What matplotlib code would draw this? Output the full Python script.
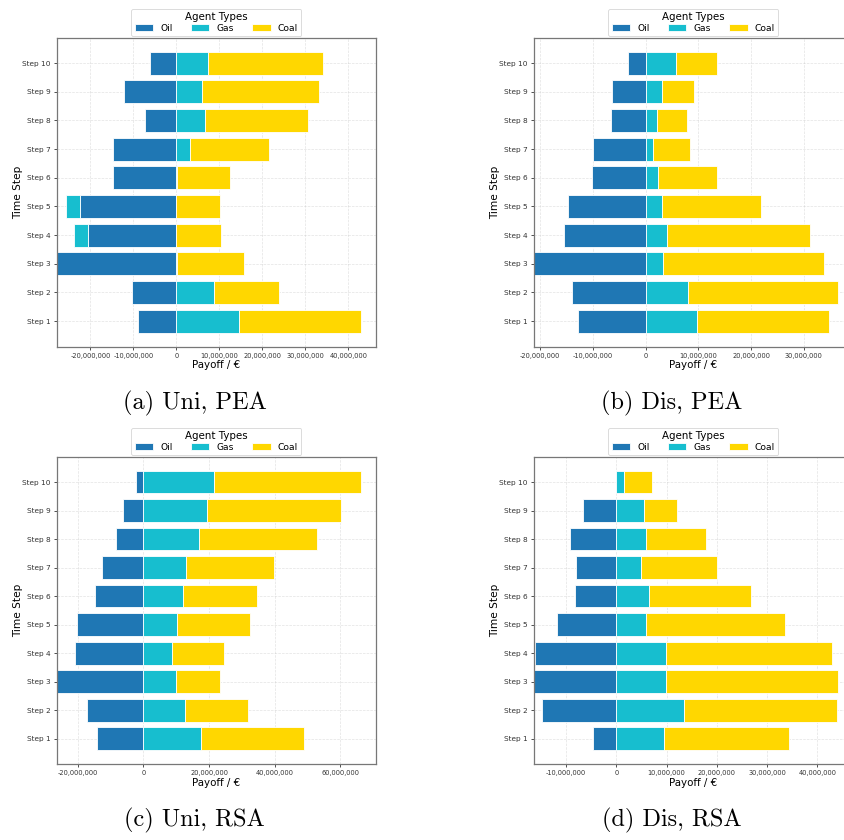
import numpy as np
import matplotlib
matplotlib.use('Agg')
import matplotlib.pyplot as plt
from matplotlib.ticker import FuncFormatter

# Payoffs per time step (Step 1 .. Step 10), in EUR
steps = [f'Step {i}' for i in range(1, 11)]
agent_types = ['Oil', 'Gas', 'Coal']
colors = ['#1f77b4', '#17becf', '#FFD700']

uni_pea_oil = [-8.84e6, -10.39e6, -27.83e6, -20.5e6, -22.4e6, -14.73e6, -14.65e6, -7.29e6, -12.25e6, -6.05e6]
uni_pea_gas = [14.57e6, 8.76e6, 0.15e6, -3.4e6, -3.18e6, 0.05e6, 3.26e6, 6.67e6, 5.97e6, 7.44e6]
uni_pea_coal = [28.3e6, 15.12e6, 15.5e6, 10.47e6, 10.23e6, 12.45e6, 18.29e6, 24.03e6, 27.2e6, 26.66e6]

dis_pea_oil = [-12.75e6, -13.89e6, -21.24e6, -15.54e6, -14.77e6, -10.21e6, -9.96e6, -6.66e6, -6.40e6, -3.36e6]
dis_pea_gas = [9.70e6, 7.99e6, 3.36e6, 4.12e6, 3.17e6, 2.28e6, 1.40e6, 2.09e6, 3.11e6, 5.83e6]
dis_pea_coal = [25.11e6, 28.47e6, 30.5e6, 27.14e6, 18.77e6, 11.16e6, 7.10e6, 5.84e6, 6.15e6, 7.74e6]

uni_rsa_oil = [-14.04e6, -17.09e6, -26.45e6, -20.75e6, -20.24e6, -14.65e6, -12.72e6, -8.44e6, -6.10e6, -2.34e6]
uni_rsa_gas = [17.60e6, 12.72e6, 9.97e6, 8.65e6, 10.17e6, 12.00e6, 13.02e6, 16.99e6, 19.33e6, 21.57e6]
uni_rsa_coal = [31.33e6, 19.02e6, 13.33e6, 15.97e6, 22.28e6, 22.59e6, 26.86e6, 35.91e6, 40.79e6, 44.66e6]

dis_rsa_oil = [-4.59e6, -14.83e6, -16.42e6, -16.16e6, -11.70e6, -8.18e6, -8.11e6, -9.18e6, -6.65e6, 0.0]
dis_rsa_gas = [9.57e6, 13.56e6, 9.97e6, 9.97e6, 5.92e6, 6.52e6, 4.92e6, 5.98e6, 5.45e6, 1.53e6]
dis_rsa_coal = [24.87e6, 30.32e6, 34.11e6, 32.92e6, 27.66e6, 20.34e6, 15.16e6, 11.91e6, 6.65e6, 5.52e6]

panels = [
    ('(a) Uni, PEA', [uni_pea_oil, uni_pea_gas, uni_pea_coal]),
    ('(b) Dis, PEA', [dis_pea_oil, dis_pea_gas, dis_pea_coal]),
    ('(c) Uni, RSA', [uni_rsa_oil, uni_rsa_gas, uni_rsa_coal]),
    ('(d) Dis, RSA', [dis_rsa_oil, dis_rsa_gas, dis_rsa_coal]),
]

# axes rectangles [left, bottom, width, height] in figure fraction
positions = [
    [0.0672, 0.5873, 0.3783, 0.3679],
    [0.6324, 0.5873, 0.3783, 0.3679],
    [0.0672, 0.0905, 0.3783, 0.3658],
    [0.6324, 0.0905, 0.3783, 0.3658],
]
caption_xy = [(0.231, 0.5200), (0.796, 0.5200), (0.230, 0.0230), (0.796, 0.0230)]

fig = plt.figure(figsize=(8.44, 8.40), dpi=100)

for (caption, series), pos, cxy in zip(panels, positions, caption_xy):
    ax = fig.add_axes(pos)
    y = np.arange(len(steps))
    pos_base = np.zeros(len(steps))
    neg_base = np.zeros(len(steps))
    for name, vals, col in zip(agent_types, series, colors):
        vals = np.array(vals)
        left = np.where(vals >= 0, pos_base, neg_base)
        ax.barh(y, vals, left=left, height=0.8, color=col, label=name,
                edgecolor='white', linewidth=0.6, zorder=2)
        pos_base = pos_base + np.clip(vals, 0, None)
        neg_base = neg_base + np.clip(vals, None, 0)

    # left edge clipped at the lowest payoff
    ax.set_xlim(left=neg_base.min())

    ax.set_yticks(y)
    ax.set_yticklabels(steps)
    ax.xaxis.set_major_formatter(FuncFormatter(lambda v, p: f'{v:,.0f}'))
    ax.tick_params(length=2.5, width=0.6, colors='#333333', pad=2)
    ax.tick_params(axis='x', labelsize=4.8)
    ax.tick_params(axis='y', labelsize=5.3)
    ax.set_xlabel('Payoff / €', fontsize=7.4, labelpad=1)
    ax.set_ylabel('Time Step', fontsize=7.6)
    ax.yaxis.set_label_coords(-0.106, 0.5)
    ax.grid(True, linestyle='--', linewidth=0.5, alpha=0.35, zorder=0)
    ax.set_axisbelow(True)
    for sp in ax.spines.values():
        sp.set_color('#777777')
        sp.set_linewidth(0.9)

    leg = ax.legend(title='Agent Types', ncol=3, loc='lower center',
                    bbox_to_anchor=(0.5, 0.99), fontsize=6.6, title_fontsize=7.4,
                    borderpad=0.35, handleheight=0.75, labelspacing=0.2)
    leg.get_frame().set_linewidth(0.6)

    fig.text(cxy[0], cxy[1], caption, ha='center', va='center',
             fontsize=17.5, family=['cmr10', 'DejaVu Serif'])

fig.savefig('out.png', dpi=100)
